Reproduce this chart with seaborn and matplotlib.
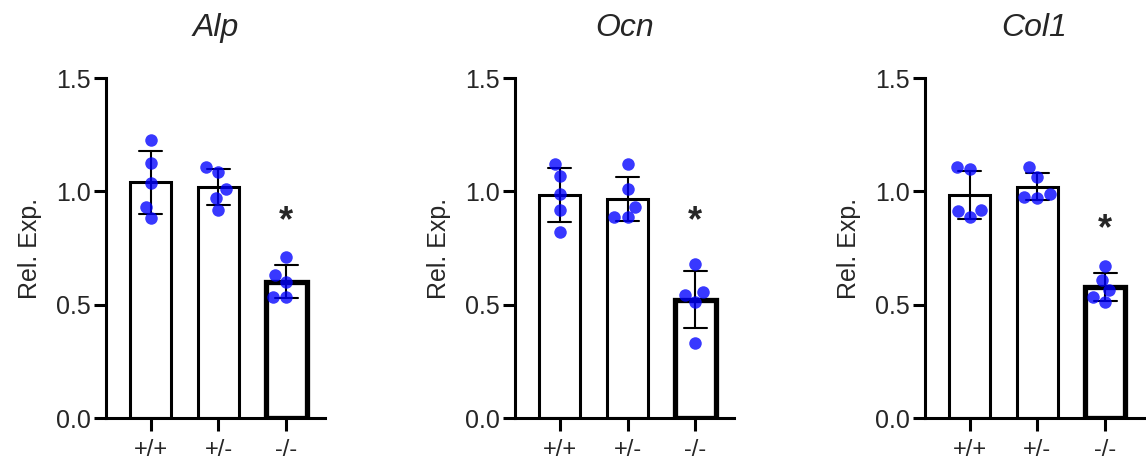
import pandas as pd
import matplotlib
matplotlib.use('Agg')
import matplotlib.pyplot as plt
import seaborn as sns

# genotype groups and per-gene relative expression (5 samples per group)
groups = ['+/+', '+/-', '-/-']
genes = ['Alp', 'Ocn', 'Col1']

alp_wt = [1.226, 1.126, 1.035, 0.932, 0.881]
alp_het = [1.106, 1.087, 1.009, 0.972, 0.918]
alp_ko = [0.71, 0.63, 0.60, 0.535, 0.535]

ocn_wt = [1.12, 1.069, 0.988, 0.918, 0.819]
ocn_het = [1.119, 1.009, 0.932, 0.888, 0.888]
ocn_ko = [0.679, 0.554, 0.542, 0.510, 0.329]

col1_wt = [1.106, 1.097, 0.913, 0.918, 0.888]
col1_het = [1.106, 1.065, 0.987, 0.976, 0.972]
col1_ko = [0.672, 0.609, 0.565, 0.532, 0.513]

# significance star heights (over -/-)
star_y = [0.865, 0.865, 0.83]

gene_data = {
    'Alp': [alp_wt, alp_het, alp_ko],
    'Ocn': [ocn_wt, ocn_het, ocn_ko],
    'Col1': [col1_wt, col1_het, col1_ko],
}

sns.set_style('ticks')
plt.rcParams['font.family'] = ['Liberation Sans', 'DejaVu Sans']

fig = plt.figure(figsize=(11.46, 4.65), dpi=100)
lefts = [0.0925, 0.4494, 0.807]

for i, gene in enumerate(genes):
    rows = []
    for g, vals in zip(groups, gene_data[gene]):
        for v in vals:
            rows.append({'group': g, 'value': v})
    df = pd.DataFrame(rows)

    ax = fig.add_axes([lefts[i], 0.101, 0.191, 0.731])
    sns.barplot(data=df, x='group', y='value', order=groups, errorbar='sd',
                capsize=0.34, width=0.6, color='white', edgecolor='black',
                linewidth=2.2, err_kws={'color': 'black', 'linewidth': 1.5},
                ax=ax)
    ax.patches[2].set_linewidth(3.8)
    sns.swarmplot(data=df, x='group', y='value', order=groups, color='#0000ff',
                  alpha=0.78, size=9, zorder=5, ax=ax)

    ax.text(2, star_y[i], '*', ha='center', va='center', fontsize=26,
            fontweight='bold')

    ax.set_ylim(0, 1.5)
    ax.set_xlim(-0.66, 2.57)
    ax.set_yticks([0, 0.5, 1.0, 1.5])
    ax.set_yticklabels(['0.0', '0.5', '1.0', '1.5'])
    ax.set_xlabel('')
    ax.set_ylabel('Rel. Exp.', fontsize=18, labelpad=10)
    ax.set_title(gene, fontsize=23, style='italic', pad=30)
    ax.tick_params(axis='both', width=2.2, length=9, color='black')
    ax.tick_params(axis='y', pad=2, labelsize=18)
    ax.tick_params(axis='x', pad=6, labelsize=17)
    sns.despine(ax=ax)
    for s in ['left', 'bottom']:
        ax.spines[s].set_linewidth(2.2)
        ax.spines[s].set_color('black')

fig.savefig('out.png', dpi=100)
